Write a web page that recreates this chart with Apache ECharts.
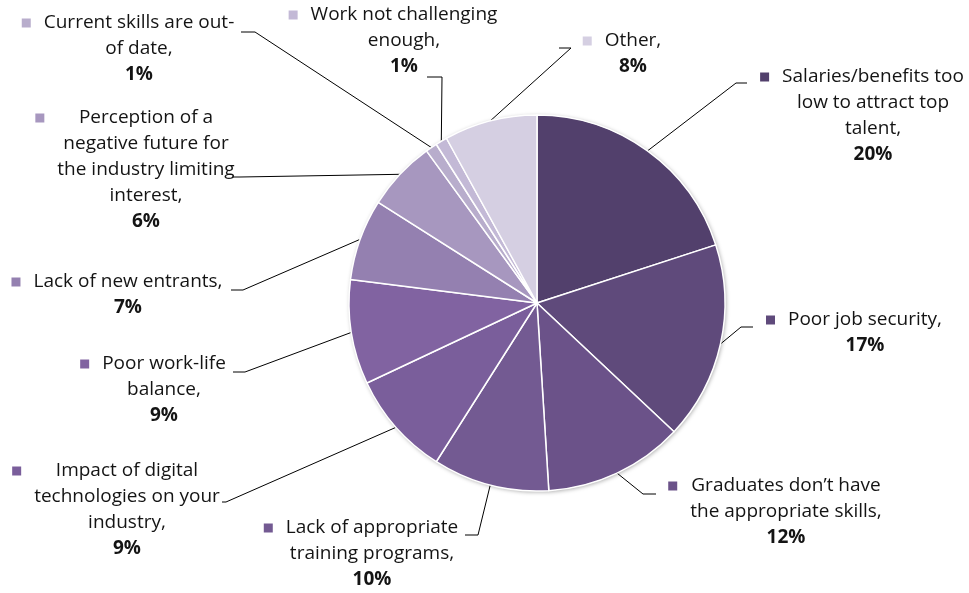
<!DOCTYPE html>
<html>
<head>
<meta charset="utf-8">
<script src="https://cdn.jsdelivr.net/npm/echarts@6/dist/echarts.min.js"></script>
<style>
  html, body { margin: 0; padding: 0; background: #ffffff; }
  #chart { width: 969px; height: 593px; }
</style>
</head>
<body>
<div id="chart"></div>
<script>
// Reasons, listed clockwise from 12 o'clock; "\n" marks where each label wraps
const categories = [
  'Salaries/benefits too\nlow to attract top\ntalent,',
  'Poor job security,',
  'Graduates don\u2019t have\nthe appropriate skills,',
  'Lack of appropriate\ntraining programs,',
  'Impact of digital\ntechnologies on your\nindustry,',
  'Poor work-life\nbalance,',
  'Lack of new entrants,',
  'Perception of a\nnegative future for\nthe industry limiting\ninterest,',
  'Current skills are out-\nof date,',
  'Work not challenging\nenough,',
  'Other,'
];
const shares = [20, 17, 12, 10, 9, 9, 7, 6, 1, 1, 8];

const sliceColors = [
  '#52406c', '#5f4a7b', '#6b5289', '#735a92', '#7a5e9b', '#8163a1',
  '#9480b0', '#a797bf', '#b8adcc', '#c3b9d6', '#d5cfe2'
];

// Label placement: [block centre x, first-line centre y, leader elbow x, elbow y, leader end x]
const labelPlacement = [
  [873,  77, 736,  83, 747],
  [865, 320, 741, 327, 753],
  [786, 486, 643, 494, 656],
  [372, 528, 478, 535, 465],
  [127, 471, 226, 502, 222],
  [164, 364, 245, 372, 233],
  [128, 282, 243, 290, 231],
  [146, 118, 240, 177, 232],
  [139,  23, 255,  32, 241],
  [404,  15, 442,  77, 427],
  [633,  41, 571,  48, 559]
];

const FONT_FAMILY = 'Open Sans';
const FONT_SIZE = 19;
const LINE_H = 26;
const MARK = 9;
const MARK_GAP = 13;
const TEXT_COLOR = '#141414';

const measureCtx = document.createElement('canvas').getContext('2d');
measureCtx.font = FONT_SIZE + 'px "' + FONT_FAMILY + '"';
const textWidth = s => measureCtx.measureText(s).width;

// Rich label: colour square sits left of the text block, every line is centred
function buildLabel(name, value, color) {
  const lines = name.split('\n');
  const widths = lines.map(textWidth);
  const maxW = Math.max.apply(null, widths);
  const gap = (maxW - widths[0]) / 2 + MARK_GAP;
  const parts = ['{m| }{g| }{t|' + lines[0] + '}{r| }'];
  for (let i = 1; i < lines.length; i++) parts.push('{t|' + lines[i] + '}');
  parts.push('{b|' + value + '%}');
  return {
    formatter: parts.join('\n'),
    rich: {
      m: { width: MARK, height: MARK, backgroundColor: color, lineHeight: LINE_H },
      g: { width: gap, lineHeight: LINE_H },
      r: { width: gap + MARK, lineHeight: LINE_H },
      t: { fontFamily: FONT_FAMILY, fontSize: FONT_SIZE, color: TEXT_COLOR, lineHeight: LINE_H },
      b: { fontFamily: FONT_FAMILY, fontSize: FONT_SIZE, fontWeight: 'bold', color: TEXT_COLOR, lineHeight: LINE_H }
    }
  };
}

const pieData = shares.map((v, i) => ({
  name: categories[i],
  value: v,
  itemStyle: { color: sliceColors[i] },
  label: buildLabel(categories[i], v, sliceColors[i])
}));

const PIE_CENTER = [537, 303];
const PIE_RADIUS = 188;

const chart = echarts.init(document.getElementById('chart'), null, { renderer: 'canvas' });
chart.setOption({
  animation: false,
  backgroundColor: '#ffffff',
  series: [
    {
      // soft shadow disc underneath the slices
      type: 'pie',
      silent: true,
      center: PIE_CENTER,
      radius: PIE_RADIUS,
      z: 1,
      label: { show: false },
      labelLine: { show: false },
      itemStyle: {
        color: '#ffffff',
        shadowBlur: 4,
        shadowColor: 'rgba(0,0,0,0.35)',
        shadowOffsetX: 1,
        shadowOffsetY: 1
      },
      data: [{ value: 1 }]
    },
    {
      type: 'pie',
      center: PIE_CENTER,
      radius: PIE_RADIUS,
      startAngle: 90,
      clockwise: true,
      avoidLabelOverlap: false,
      z: 2,
      itemStyle: { borderColor: '#ffffff', borderWidth: 1.5 },
      label: {
        show: true,
        position: 'outside',
        align: 'center',
        fontFamily: FONT_FAMILY,
        fontSize: FONT_SIZE,
        color: TEXT_COLOR
      },
      labelLine: {
        show: true,
        length: 20,
        length2: 10,
        smooth: false,
        lineStyle: { color: '#000000', width: 1 }
      },
      labelLayout: function (params) {
        const p = labelPlacement[params.dataIndex];
        return {
          x: p[0],
          y: p[1] - LINE_H / 2,
          align: 'center',
          verticalAlign: 'top',
          labelLinePoints: [params.labelLinePoints[0], [p[2], p[3]], [p[4], p[3]]]
        };
      },
      emphasis: { disabled: true },
      data: pieData
    }
  ]
});
</script>
</body>
</html>
